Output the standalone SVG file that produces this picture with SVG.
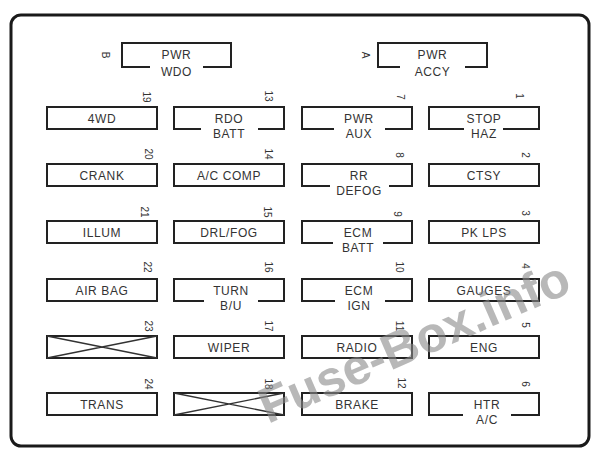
<svg xmlns="http://www.w3.org/2000/svg" width="600" height="458" viewBox="0 0 600 458">
<style>
.frame{fill:none;stroke:#1a1a1a;stroke-width:3}
.bx{fill:none;stroke:#222;stroke-width:2}
.xl{fill:none;stroke:#333;stroke-width:1.3}
.lb{font-family:"Liberation Sans",Arial,sans-serif;font-size:12px;fill:#333;text-anchor:middle;letter-spacing:0.6px}
.nm{font-family:"Liberation Sans",Arial,sans-serif;font-size:10px;fill:#333;text-anchor:middle}
.wm{font-family:"Liberation Sans",Arial,sans-serif;font-size:50px;font-weight:bold;fill:#8a8a8a;opacity:0.6}
</style>
<rect width="600" height="458" fill="#fff"/>
<rect class="frame" x="11" y="15" width="578" height="431" rx="10"/>

<g id="relay-pwr-wdo">
<path class="bx" d="M150,67 H122 V43 H231 V67 H203"/>
<text class="lb" x="176.5" y="59">PWR</text>
<text class="lb" x="176.5" y="76">WDO</text>
<text class="nm" transform="translate(105,55) rotate(90)" dy="0.35em">B</text>
</g>
<g id="relay-pwr-accy">
<path class="bx" d="M400,67 H378 V43 H487 V67 H465"/>
<text class="lb" x="432.5" y="59">PWR</text>
<text class="lb" x="432.5" y="76">ACCY</text>
<text class="nm" transform="translate(365,55) rotate(90)" dy="0.35em">A</text>
</g>

<!-- Column 1 -->
<g id="fuse-19" transform="translate(47,107)">
<rect class="bx" width="110" height="22"/>
<text class="lb" x="55" y="15.5">4WD</text>
<text class="nm" transform="translate(99,-10) rotate(90)" dy="0.35em">19</text>
</g>
<g id="fuse-20" transform="translate(47,164)">
<rect class="bx" width="110" height="22"/>
<text class="lb" x="55" y="15.5">CRANK</text>
<text class="nm" transform="translate(101,-10) rotate(90)" dy="0.35em">20</text>
</g>
<g id="fuse-21" transform="translate(47,221)">
<rect class="bx" width="110" height="22"/>
<text class="lb" x="55" y="15.5">ILLUM</text>
<text class="nm" transform="translate(97,-9) rotate(90)" dy="0.35em">21</text>
</g>
<g id="fuse-22" transform="translate(47,279)">
<rect class="bx" width="110" height="22"/>
<text class="lb" x="55" y="15.5">AIR BAG</text>
<text class="nm" transform="translate(100,-12) rotate(90)" dy="0.35em">22</text>
</g>
<g id="fuse-23" transform="translate(47,336)">
<rect class="bx" width="110" height="22"/>
<path class="xl" d="M0,0 L110,22 M0,22 L110,0"/>
<text class="nm" transform="translate(101,-10) rotate(90)" dy="0.35em">23</text>
</g>
<g id="fuse-24" transform="translate(47,393)">
<rect class="bx" width="110" height="22"/>
<text class="lb" x="55" y="15.5">TRANS</text>
<text class="nm" transform="translate(101,-9) rotate(90)" dy="0.35em">24</text>
</g>

<!-- Column 2 -->
<g id="fuse-13" transform="translate(174,107)">
<path class="bx" d="M27,22 H0 V0 H110 V22 H84"/>
<text class="lb" x="55" y="15.5">RDO</text>
<text class="lb" x="55" y="30.5">BATT</text>
<text class="nm" transform="translate(94,-11) rotate(90)" dy="0.35em">13</text>
</g>
<g id="fuse-14" transform="translate(174,164)">
<rect class="bx" width="110" height="22"/>
<text class="lb" x="55" y="15.5">A/C COMP</text>
<text class="nm" transform="translate(94,-10) rotate(90)" dy="0.35em">14</text>
</g>
<g id="fuse-15" transform="translate(174,221)">
<rect class="bx" width="110" height="22"/>
<text class="lb" x="55" y="15.5">DRL/FOG</text>
<text class="nm" transform="translate(93,-9) rotate(90)" dy="0.35em">15</text>
</g>
<g id="fuse-16" transform="translate(174,279)">
<path class="bx" d="M30,22 H0 V0 H110 V22 H84"/>
<text class="lb" x="57" y="15.5">TURN</text>
<text class="lb" x="57" y="30.5">B/U</text>
<text class="nm" transform="translate(94,-12) rotate(90)" dy="0.35em">16</text>
</g>
<g id="fuse-17" transform="translate(174,336)">
<rect class="bx" width="110" height="22"/>
<text class="lb" x="55" y="15.5">WIPER</text>
<text class="nm" transform="translate(94,-10) rotate(90)" dy="0.35em">17</text>
</g>
<g id="fuse-18" transform="translate(174,393)">
<rect class="bx" width="110" height="22"/>
<path class="xl" d="M0,0 L110,22 M0,22 L110,0"/>
<text class="nm" transform="translate(94,-9) rotate(90)" dy="0.35em">18</text>
</g>

<!-- Column 3 -->
<g id="fuse-7" transform="translate(302,107)">
<path class="bx" d="M32,22 H0 V0 H110 V22 H83"/>
<text class="lb" x="57" y="15.5">PWR</text>
<text class="lb" x="57" y="30.5">AUX</text>
<text class="nm" transform="translate(98,-10) rotate(90)" dy="0.35em">7</text>
</g>
<g id="fuse-8" transform="translate(302,164)">
<path class="bx" d="M28,22 H0 V0 H110 V22 H87"/>
<text class="lb" x="57" y="15.5">RR</text>
<text class="lb" x="57" y="30.5">DEFOG</text>
<text class="nm" transform="translate(97,-9) rotate(90)" dy="0.35em">8</text>
</g>
<g id="fuse-9" transform="translate(302,221)">
<path class="bx" d="M31,22 H0 V0 H110 V22 H81"/>
<text class="lb" x="56" y="15.5">ECM</text>
<text class="lb" x="56" y="30.5">BATT</text>
<text class="nm" transform="translate(95,-7) rotate(90)" dy="0.35em">9</text>
</g>
<g id="fuse-10" transform="translate(302,279)">
<path class="bx" d="M33,22 H0 V0 H110 V22 H83"/>
<text class="lb" x="57" y="15.5">ECM</text>
<text class="lb" x="57" y="30.5">IGN</text>
<text class="nm" transform="translate(97,-12) rotate(90)" dy="0.35em">10</text>
</g>
<g id="fuse-11" transform="translate(302,336)">
<rect class="bx" width="110" height="22"/>
<text class="lb" x="55" y="15.5">RADIO</text>
<text class="nm" transform="translate(97,-10) rotate(90)" dy="0.35em">11</text>
</g>
<g id="fuse-12" transform="translate(302,393)">
<rect class="bx" width="110" height="22"/>
<text class="lb" x="55" y="15.5">BRAKE</text>
<text class="nm" transform="translate(99,-10) rotate(90)" dy="0.35em">12</text>
</g>

<!-- Column 4 -->
<g id="fuse-1" transform="translate(429,107)">
<path class="bx" d="M35,22 H0 V0 H110 V22 H74"/>
<text class="lb" x="55" y="15.5">STOP</text>
<text class="lb" x="55" y="30.5">HAZ</text>
<text class="nm" transform="translate(90,-11) rotate(90)" dy="0.35em">1</text>
</g>
<g id="fuse-2" transform="translate(429,164)">
<rect class="bx" width="110" height="22"/>
<text class="lb" x="55" y="15.5">CTSY</text>
<text class="nm" transform="translate(96,-9) rotate(90)" dy="0.35em">2</text>
</g>
<g id="fuse-3" transform="translate(429,221)">
<rect class="bx" width="110" height="22"/>
<text class="lb" x="55" y="15.5">PK LPS</text>
<text class="nm" transform="translate(96,-8) rotate(90)" dy="0.35em">3</text>
</g>
<g id="fuse-4" transform="translate(429,279)">
<rect class="bx" width="110" height="22"/>
<text class="lb" x="55" y="15.5">GAUGES</text>
<text class="nm" transform="translate(96,-13) rotate(90)" dy="0.35em">4</text>
</g>
<g id="fuse-5" transform="translate(429,336)">
<rect class="bx" width="110" height="22"/>
<text class="lb" x="55" y="15.5">ENG</text>
<text class="nm" transform="translate(96,-11) rotate(90)" dy="0.35em">5</text>
</g>
<g id="fuse-6" transform="translate(429,393)">
<path class="bx" d="M34,22 H0 V0 H110 V22 H82"/>
<text class="lb" x="58" y="15.5">HTR</text>
<text class="lb" x="58" y="30.5">A/C</text>
<text class="nm" transform="translate(96,-9) rotate(90)" dy="0.35em">6</text>
</g>

<g id="watermark">
<text class="wm" transform="translate(268,424) rotate(-23.5)">Fuse-Box.info</text>
</g>
</svg>
